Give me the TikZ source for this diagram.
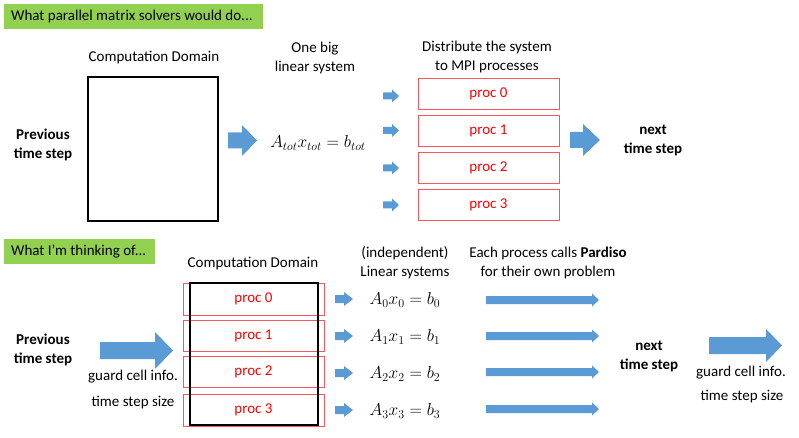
\documentclass[tikz,border=0pt]{standalone}
\usepackage{fontspec}
\setmainfont{Carlito}
\definecolor{bannergreen}{HTML}{92D050}
\definecolor{arrowblue}{HTML}{5B9BD5}
\definecolor{procred}{HTML}{FF0000}
\definecolor{procline}{HTML}{F05A5F}
\newcommand\blkarrow[6]{% x1, x2, yc, shaft half, head half, head start x
  \fill[arrowblue] (#1,#3-#4) -- (#6,#3-#4) -- (#6,#3-#5) -- (#2,#3) -- (#6,#3+#5) -- (#6,#3+#4) -- (#1,#3+#4) -- cycle;}
\begin{document}
\begin{tikzpicture}[x=1pt,y=-1pt,
  lbl/.style={font=\fontsize{15}{19}\selectfont, align=center, inner sep=0pt},
  blbl/.style={lbl, font=\fontsize{15}{19}\selectfont\bfseries},
  banner/.style={fill=bannergreen, inner xsep=7pt, inner ysep=0pt, anchor=west, font=\fontsize{15}{19}\selectfont, minimum height=25pt},
  procbox/.style={draw=procline, line width=0.8pt, text=procred, font=\fontsize{15}{19}\selectfont, inner sep=0pt},
  domainbox/.style={draw=black, line width=2pt},
  mth/.style={inner sep=0pt, font=\fontsize{17}{20}\selectfont}
]
\useasboundingbox (0,0) rectangle (799,438);

% ---------- Top panel ----------
\node[banner] (ban1) at (4,16.5) {\makebox[245pt][l]{What parallel matrix solvers would do...}};

\node[lbl] (cd1) at (154,58) {Computation Domain};
\draw[domainbox] (88,77) rectangle (218,221);

\node[blbl] (prev1) at (43,145) {Previous\\time step};

\blkarrow{228}{257}{140.5}{8}{15.5}{242}

\node[lbl] (big) at (315,58.5) {One big\\linear system};
\node[mth] (atot) at (318,143) {$A_{tot}x_{tot}=b_{tot}$};

\node[lbl] (dist) at (487,57) {Distribute the system\\to MPI processes};

\foreach \yc in {96, 130.5, 168, 205}{
  \blkarrow{383}{399}{\yc}{3.5}{6.5}{392}
}
\node[procbox, minimum width=141pt, minimum height=31pt] (p0) at (488.5,93.5) {proc 0};
\node[procbox, minimum width=141pt, minimum height=31pt] (p1) at (488.5,130.5) {proc 1};
\node[procbox, minimum width=141pt, minimum height=31pt] (p2) at (488.5,168) {proc 2};
\node[procbox, minimum width=141pt, minimum height=31pt] (p3) at (488.5,205) {proc 3};

\blkarrow{570}{600}{140}{8}{16}{583}
\node[blbl] (next1) at (653,140) {next\\time step};

% ---------- Bottom panel ----------
\node[banner] (ban2) at (4,251.5) {\makebox[137pt][l]{What I'm thinking of...}};

\node[lbl] (cd2) at (253,264) {Computation Domain};

\node[procbox, minimum width=141pt, minimum height=32pt] (q0) at (253.5,299) {proc 0};
\node[procbox, minimum width=141pt, minimum height=31pt] (q1) at (253.5,335.5) {proc 1};
\node[procbox, minimum width=141pt, minimum height=31pt] (q2) at (253.5,371.5) {proc 2};
\node[procbox, minimum width=141pt, minimum height=32pt] (q3) at (253.5,410) {proc 3};
\draw[domainbox] (189.5,283) rectangle (317.5,425);

\node[blbl] (prev2) at (43,350) {Previous\\time step};
\blkarrow{100}{173}{350.5}{8.5}{18.5}{155}
\node[lbl] (gc1) at (133,377) {guard cell info.};
\node[lbl] (ts1) at (133,403) {time step size};

\node[lbl] (indep) at (405,262.5) {(independent)\\Linear systems};
\node[lbl] (each) at (548,262.5) {Each process calls \textbf{Pardiso}\\for their own problem};

\foreach \yc in {299, 336, 373, 410}{
  \blkarrow{335}{353}{\yc}{4}{7}{344}
}
\node[mth] (e0) at (405,300) {$A_0x_0=b_0$};
\node[mth] (e1) at (405,337) {$A_1x_1=b_1$};
\node[mth] (e2) at (405,374) {$A_2x_2=b_2$};
\node[mth] (e3) at (405,411) {$A_3x_3=b_3$};

\foreach \yc in {300, 336, 372, 409}{
  \blkarrow{486}{599}{\yc}{4}{6.5}{592}
}

\node[blbl] (next2) at (649,356) {next\\time step};
\blkarrow{709}{782}{345.5}{8.5}{16.5}{766}
\node[lbl] (gc2) at (741,373) {guard cell info.};
\node[lbl] (ts2) at (742,397) {time step size};
\end{tikzpicture}
\end{document}
